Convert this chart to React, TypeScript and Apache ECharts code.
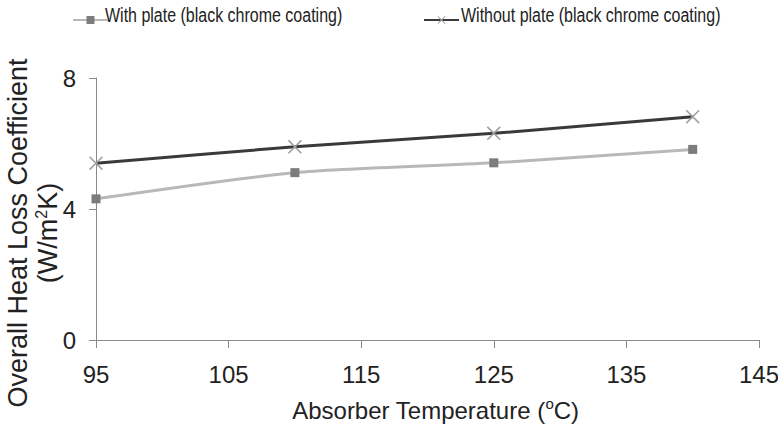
import React, { useEffect, useRef } from "react";
import * as echarts from "echarts";

// Absorber temperature (°C) at each measurement
const temperatures = [95, 110, 125, 140];
// Overall heat loss coefficient (W/m²K)
const withPlate = [4.31, 5.11, 5.41, 5.82];
const withoutPlate = [5.4, 5.9, 6.31, 6.82];

const seriesNames = [
  "With plate (black chrome coating)",
  "Without plate (black chrome coating)",
];

// thin "x" marker built from two filled diagonal bars
const CROSS =
  "path://M0,0.8L0.8,0L10,9.2L9.2,10Z M9.2,0L10,0.8L0.8,10L0,9.2Z";

const FONT = "'Liberation Sans', Arial, sans-serif";
const TEXT = "#222";
const AXIS = "#8a8a8a";

export default function App() {
  const ref = useRef<HTMLDivElement>(null);

  useEffect(() => {
    document.body.style.margin = "0";
    if (!ref.current) return;
    const chart = echarts.init(ref.current, null, { renderer: "svg" });

    // condensed legend captions, drawn next to the legend swatches
    const legendCaption = (text: string, x: number) => ({
      type: "text",
      x,
      y: 15,
      scaleX: 0.82,
      style: {
        text,
        fontSize: 19.5,
        fontFamily: FONT,
        fill: TEXT,
        verticalAlign: "middle",
      },
    });

    chart.setOption({
      animation: false,
      backgroundColor: "#ffffff",
      textStyle: { fontFamily: FONT },
      legend: {
        top: 10,
        left: 67,
        itemWidth: 35,
        itemHeight: 10,
        itemGap: 314,
        formatter: () => "",
        data: seriesNames,
      },
      graphic: [
        legendCaption(seriesNames[0], 105),
        legendCaption(seriesNames[1], 461),
      ],
      grid: {
        left: 96,
        right: 19,
        top: 78,
        bottom: 86,
        containLabel: false,
        outerBoundsMode: "none",
      },
      xAxis: {
        type: "value",
        min: 95,
        max: 145,
        interval: 10,
        splitLine: { show: false },
        axisLine: { lineStyle: { color: AXIS, width: 1 } },
        axisTick: { show: true, length: 8, lineStyle: { color: AXIS } },
        axisLabel: { fontSize: 24, color: TEXT, margin: 22, fontFamily: FONT },
        name: "{a|Absorber Temperature (}{s|o}{a|C)}",
        nameLocation: "middle",
        nameGap: 56,
        nameMoveOverlap: false,
        nameTextStyle: {
          padding: [0, 0, 0, 16],
          rich: {
            a: { fontSize: 24, color: TEXT, fontFamily: FONT, lineHeight: 28 },
            s: {
              fontSize: 15,
              color: TEXT,
              fontFamily: FONT,
              verticalAlign: "top",
              lineHeight: 28,
            },
          },
        },
      },
      yAxis: {
        type: "value",
        min: 0,
        max: 8,
        interval: 4,
        splitLine: { show: false },
        axisLine: { show: true, lineStyle: { color: AXIS, width: 1 } },
        axisTick: { show: true, length: 7, lineStyle: { color: AXIS } },
        axisLabel: { fontSize: 24, color: TEXT, margin: 20, fontFamily: FONT },
        name: "{a|Overall Heat Loss Coefficient}\n{a|(W/m}{s|2}{a|K)}",
        nameLocation: "middle",
        nameGap: 33,
        nameMoveOverlap: false,
        nameTextStyle: {
          padding: [0, 48, 0, 0],
          rich: {
            a: { fontSize: 27, color: TEXT, fontFamily: FONT, lineHeight: 30 },
            s: {
              fontSize: 16,
              color: TEXT,
              fontFamily: FONT,
              verticalAlign: "top",
              lineHeight: 30,
            },
          },
        },
      },
      series: [
        {
          name: seriesNames[0],
          type: "line",
          smooth: 0.25,
          data: temperatures.map((t, i) => [t, withPlate[i]]),
          symbol: "rect",
          symbolSize: 9,
          lineStyle: { color: "#b8b8b8", width: 3 },
          itemStyle: { color: "#7c7c7c" },
          z: 2,
        },
        {
          name: seriesNames[1],
          type: "line",
          smooth: 0.25,
          data: temperatures.map((t, i) => [t, withoutPlate[i]]),
          symbol: CROSS,
          symbolSize: 14,
          lineStyle: { color: "#3a3a3a", width: 3 },
          itemStyle: { color: "#a0a0a0" },
          z: 3,
        },
      ],
    });
    return () => chart.dispose();
  }, []);

  return <div ref={ref} style={{ width: 778, height: 426 }} />;
}
